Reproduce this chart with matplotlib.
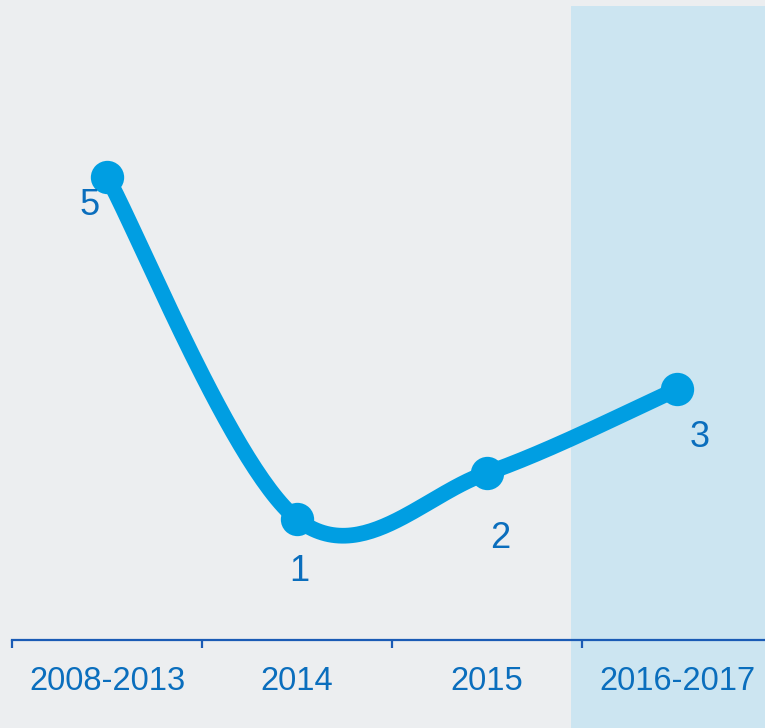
import numpy as np
import matplotlib
matplotlib.use("Agg")
import matplotlib.pyplot as plt

# data
categories = ["2008-2013", "2014", "2015", "2016-2017"]
labels = ["5", "1", "2", "3"]
# plotted heights on a hidden 0-100 axis
heights = [72.4, 18.9, 26.1, 39.2]
forecast_start = 2.442

plt.rcParams['font.family'] = ['Liberation Sans', 'DejaVu Sans']

bg = "#eceef0"
line_col = "#009ee2"
text_col = "#0a6ebd"
axis_col = "#1a5bb5"
shade_col = "#cce5f1"

fig = plt.figure(figsize=(7.65, 7.28), dpi=100, facecolor=bg)
ax = fig.add_axes([12 / 765, 88 / 728, 753 / 765, 640 / 728])
ax.set_facecolor(bg)
ax.set_xlim(-0.5, 3.463)
ax.set_ylim(0, 100)

x = np.arange(len(categories))
y = np.array(heights)

# shaded forecast band, runs over the tick labels too
ax.axvspan(forecast_start, 4.0, ymin=-88 / 640, ymax=634 / 640,
           color=shade_col, lw=0, clip_on=False, zorder=0)

# cardinal (catmull-rom) spline, end points doubled, done in pixel space
pts = ax.transData.transform(np.column_stack([x, y]))
padded = np.vstack([pts[:1], pts, pts[-1:]])
k = 1 / 6
curve = []
t = np.linspace(0, 1, 60)[:, None]
for i in range(1, len(padded) - 2):
    p0, p1, p2, p3 = padded[i - 1], padded[i], padded[i + 1], padded[i + 2]
    c1 = p1 + k * (p2 - p0)
    c2 = p2 - k * (p3 - p1)
    seg = (1 - t) ** 3 * p1 + 3 * (1 - t) ** 2 * t * c1 + 3 * (1 - t) * t ** 2 * c2 + t ** 3 * p2
    curve.append(seg)
curve = ax.transData.inverted().transform(np.vstack(curve))

ax.plot(curve[:, 0], curve[:, 1], color=line_col, lw=11.3,
        solid_capstyle='round', zorder=3)
ax.plot(x, y, 'o', color=line_col, ms=24, mew=0, zorder=4)

offsets = [(-17, -29), (2, -52), (13, -66), (23, -48)]
for xi, yi, lab, off in zip(x, y, labels, offsets):
    ax.annotate(lab, (xi, yi), xytext=off, textcoords='offset pixels',
                ha='center', va='center', fontsize=26, color=text_col, zorder=5)

# axis
for s in ['top', 'right', 'left']:
    ax.spines[s].set_visible(False)
ax.spines['bottom'].set_color(axis_col)
ax.spines['bottom'].set_linewidth(1.6)
ax.set_yticks([])
ax.set_xticks([-0.5, 0.5, 1.5, 2.5])
ax.set_xticklabels([])
ax.tick_params(axis='x', which='major', direction='out', length=6,
               width=1.6, color=axis_col)
ax.set_xticks(x, minor=True)
ax.set_xticklabels(categories, minor=True)
ax.tick_params(axis='x', which='minor', length=0, pad=18.5,
               labelsize=23.5, labelcolor=text_col)

fig.savefig("out.png", dpi=100, facecolor=bg)
